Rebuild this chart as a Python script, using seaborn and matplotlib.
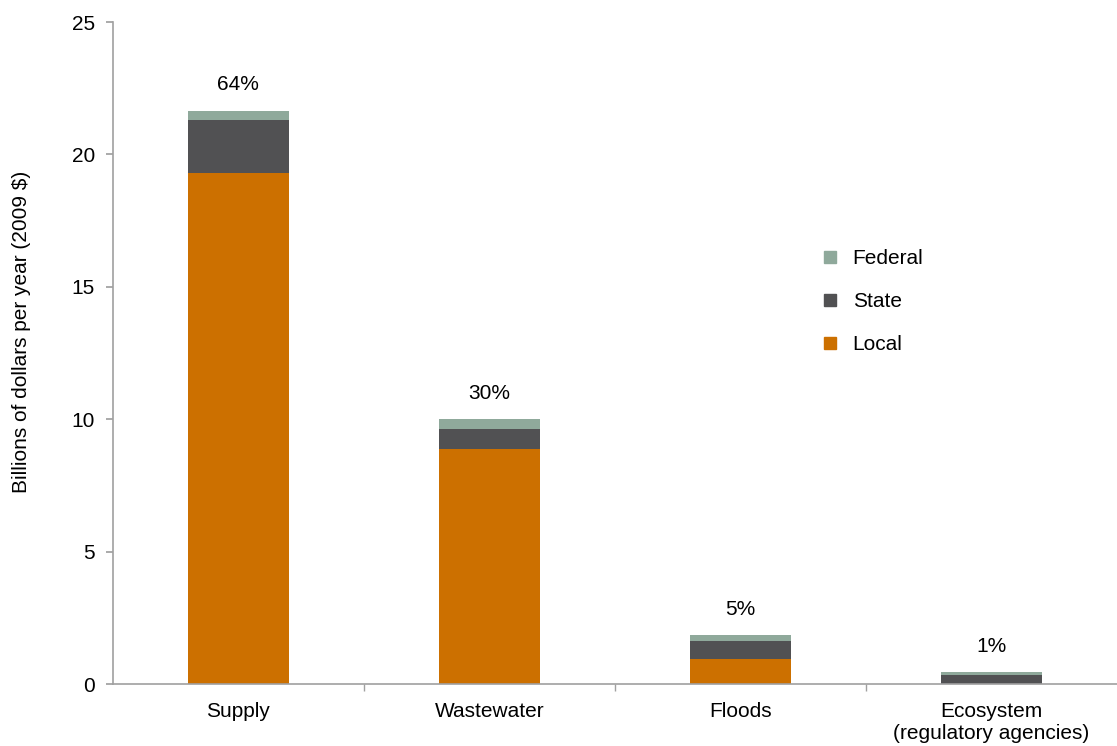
import numpy as np
import pandas as pd
import matplotlib
matplotlib.use("Agg")
import matplotlib.pyplot as plt
import seaborn as sns
from matplotlib.patches import Patch

sns.set_theme(style="white")
plt.rcParams['font.family'] = ['Liberation Sans', 'DejaVu Sans']
plt.rcParams['text.color'] = 'black'
plt.rcParams['axes.labelcolor'] = 'black'
plt.rcParams['xtick.color'] = 'black'
plt.rcParams['ytick.color'] = 'black'

# data (billions of 2009 dollars per year)
categories = ["Supply", "Wastewater", "Floods", "Ecosystem\n(regulatory agencies)"]
local = [19.3, 8.87, 0.94, 0.02]
state = [2.0, 0.76, 0.68, 0.32]
federal = [0.35, 0.38, 0.23, 0.10]
shares = ["64%", "30%", "5%", "1%"]

colors = {"Federal": "#8fa99b", "State": "#515153", "Local": "#cc7000"}

df = pd.DataFrame({"category": categories, "Local": local,
                   "State": state, "Federal": federal})
df["LocalState"] = df["Local"] + df["State"]
df["Total"] = df["LocalState"] + df["Federal"]

fs = 15

fig = plt.figure(figsize=(11.17, 7.46), dpi=100)
ax = fig.add_axes([0.101, 0.083, 0.899, 0.8875])

# stacked bars drawn as overlapping cumulative totals
for col, key in [("Total", "Federal"), ("LocalState", "State"), ("Local", "Local")]:
    sns.barplot(data=df, x="category", y=col, color=colors[key],
                width=0.4, saturation=1, linewidth=0, edgecolor="none", ax=ax)

for i, (tot, s) in enumerate(zip(df["Total"], shares)):
    ax.text(i, tot + 0.62, s, ha="center", va="bottom", fontsize=fs)

ax.set_xlim(-0.5, 3.5)
ax.set_ylim(0, 25)
ax.set_yticks([0, 5, 10, 15, 20, 25])
ax.set_xlabel("")
ax.set_ylabel("Billions of dollars per year (2009 $)", fontsize=fs)
ax.yaxis.set_label_coords(-0.081, 0.532)
ax.tick_params(axis="y", labelsize=fs, length=5, color="#a0a0a0", direction="out", left=True, pad=8)
ax.tick_params(axis="x", which="major", labelsize=fs, length=0, pad=13)
ax.set_xticks([0.5, 1.5, 2.5], minor=True)
ax.tick_params(axis="x", which="minor", length=5, color="#a0a0a0", direction="out", bottom=True)
ax.set_xticklabels(categories, linespacing=1.2)

for side in ["top", "right"]:
    ax.spines[side].set_visible(False)
for side in ["left", "bottom"]:
    ax.spines[side].set_color("#a0a0a0")
    ax.spines[side].set_linewidth(1.2)

handles = [Patch(color=colors[k]) for k in ["Federal", "State", "Local"]]
ax.legend(handles, ["Federal", "State", "Local"], loc="upper left",
          bbox_to_anchor=(0.69, 0.685), frameon=False, fontsize=fs,
          handlelength=0.55, handleheight=0.55, labelspacing=1.15, handletextpad=0.8)

fig.savefig("out.png", dpi=100)
